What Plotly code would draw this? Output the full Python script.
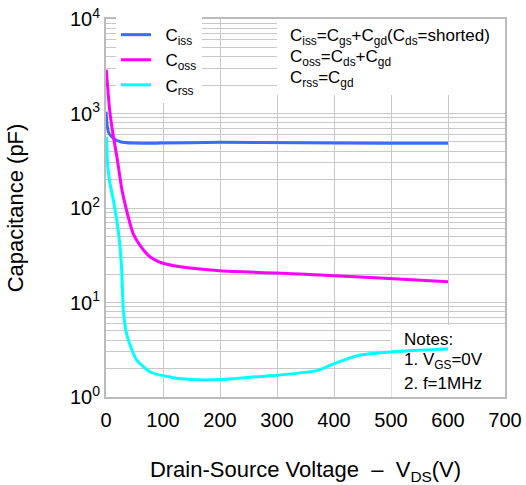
import plotly.graph_objects as go

# Data
ciss_v = [0, 2.3, 5, 10, 16, 25, 47, 95, 200, 340, 481, 600]
ciss_c = [1045, 725, 620, 568, 530, 503, 486, 486, 496, 490, 484, 484]

coss_v = [0.5, 6.5, 12, 20, 28, 36, 42, 48, 60, 77, 100, 130, 200, 340, 481, 600]
coss_c = [2900, 1080, 620, 322, 155, 95, 69, 53, 40, 30.5, 26, 23.9, 21.7, 20, 18.2, 16.6]

crss_v = [0.5, 1, 2.3, 5.8, 12.8, 18.7, 23.4, 27.5, 30.4, 36, 45, 54, 77, 118, 165, 200, 253, 300, 370, 405, 446, 504, 600]
crss_c = [560, 547, 322, 198, 122, 75, 46, 22, 8.3, 4.7, 3.2, 2.46, 1.85, 1.6, 1.52, 1.53, 1.62, 1.7, 1.9, 2.31, 2.78, 3.02, 3.22]

x_ticks = [0, 100, 200, 300, 400, 500, 600, 700]
y_ticks = [1, 10, 100, 1000, 10000]
y_ticktext = ["10<sup>0</sup>", "10<sup>1</sup>", "10<sup>2</sup>", "10<sup>3</sup>", "10<sup>4</sup>"]
y_minor = [m * d for d in [1, 10, 100, 1000] for m in range(2, 10)]

series_names = ["\u00a0\u00a0C<sub>iss</sub>", "\u00a0\u00a0C<sub>oss</sub>", "\u00a0\u00a0C<sub>rss</sub>"]

eq_lines = [
    "C<sub>iss</sub>=C<sub>gs</sub>+C<sub>gd</sub>(C<sub>ds</sub>=shorted)",
    "C<sub>oss</sub>=C<sub>ds</sub>+C<sub>gd</sub>",
    "C<sub>rss</sub>=C<sub>gd</sub>",
]
note_lines = ["Notes:", "1. V<sub>GS</sub>=0V", "2. f=1MHz"]

FONT = "Liberation Sans, Arial, sans-serif"
GRID = "#c8c8c8"

fig = go.Figure()
fig.add_trace(go.Scatter(x=ciss_v, y=ciss_c, mode="lines", name=series_names[0],
                         line=dict(color="#3a6cf4", width=3, shape="spline", smoothing=0.6)))
fig.add_trace(go.Scatter(x=coss_v, y=coss_c, mode="lines", name=series_names[1],
                         line=dict(color="#ff00ff", width=3, shape="spline", smoothing=0.6)))
fig.add_trace(go.Scatter(x=crss_v, y=crss_c, mode="lines", name=series_names[2],
                         line=dict(color="#00ffff", width=3, shape="spline", smoothing=0.6)))

# white boxes behind texts (above grid, below traces)
fig.add_shape(type="rect", xref="x", yref="y", x0=300, x1=700, y0=1570, y1=10000,
              fillcolor="white", line=dict(width=0), layer="between")
fig.add_shape(type="rect", xref="x", yref="y", x0=501, x1=700, y0=1, y1=5.78,
              fillcolor="white", line=dict(width=0), layer="between")

for txt, yy in zip(eq_lines, [0.952, 0.897, 0.841]):
    fig.add_annotation(text=txt, xref="paper", yref="paper", x=0.456, y=yy,
                       xanchor="left", yanchor="middle", showarrow=False,
                       font=dict(size=17, color="black", family=FONT))
for txt, yy in zip(note_lines, [0.153, 0.095, 0.037]):
    fig.add_annotation(text=txt, xref="paper", yref="paper", x=0.742, y=yy,
                       xanchor="left", yanchor="middle", showarrow=False,
                       font=dict(size=17, color="black", family=FONT))

fig.update_layout(
    width=526, height=485,
    margin=dict(l=106, r=21, t=19, b=88, autoexpand=False),
    paper_bgcolor="white", plot_bgcolor="white",
    font=dict(family=FONT, color="black"),
    showlegend=True,
    legend=dict(x=0.025, y=1.005, xanchor="left", yanchor="top", bgcolor="white",
                borderwidth=0, font=dict(size=17, color="black", family=FONT),
                tracegroupgap=0, itemwidth=30),
    xaxis=dict(range=[0, 700], tickvals=x_ticks, ticks="", showgrid=True, gridcolor=GRID,
               gridwidth=1, zeroline=False, showline=True, linecolor="#bbbbbb", linewidth=2,
               mirror=True, tickfont=dict(size=20, color="black"), automargin=False,
               ticklabelstandoff=4,
               title=dict(text="Drain-Source Voltage \u00a0\u2013\u00a0 V<sub>DS</sub>(V)",
                          font=dict(size=22, color="black"), standoff=33)),
    yaxis=dict(type="log", range=[0, 4], tickvals=y_ticks, ticktext=y_ticktext, ticks="",
               showgrid=True, gridcolor=GRID, gridwidth=1, zeroline=False, showline=True,
               linecolor="#bbbbbb", linewidth=2, mirror=True, automargin=False,
               tickfont=dict(size=20, color="black"),
               minor=dict(tickvals=y_minor, showgrid=True, gridcolor=GRID, gridwidth=1, ticks=""),
               title=dict(text="Capacitance (pF)", font=dict(size=22, color="black"), standoff=40)),
)

fig.write_html("out.html")
